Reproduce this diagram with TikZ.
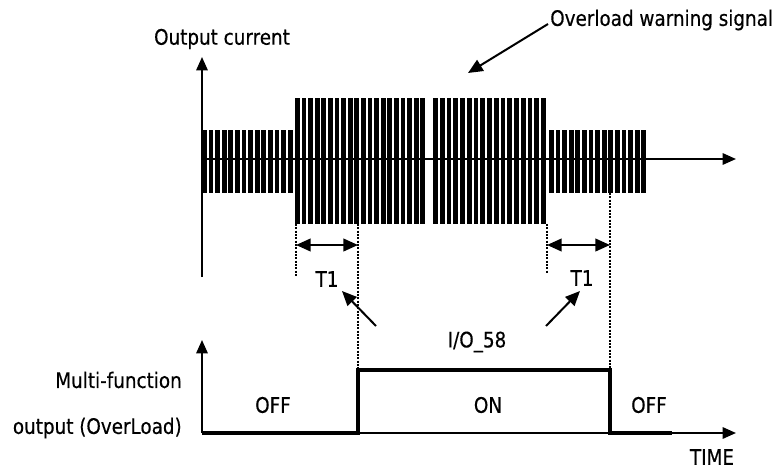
\documentclass[tikz,border=0pt]{standalone}
\usepackage{fontspec}
\setmainfont{DejaVu Sans}[FakeStretch=0.86,FakeBold=0.4]
\usetikzlibrary{arrows.meta}
\tikzset{
  axis/.style={line width=1.5pt,-{Triangle[length=10pt,width=8.5pt]}},
  sig/.style={line width=2.6pt,line join=miter},
  guide/.style={line width=1.2pt,dash pattern=on 1.4pt off 1.1pt},
  span/.style={line width=1.5pt,{Triangle[length=11pt,width=9.5pt]}-{Triangle[length=11pt,width=9.5pt]}},
  pointer/.style={line width=1.5pt,-{Triangle[length=11pt,width=9.5pt]}},
  lbl/.style={inner sep=0pt,font=\fontsize{16}{19}\selectfont},
  bar/.style={fill=black}
}
\begin{document}
\begin{tikzpicture}[x=0.75pt,y=-0.75pt]
\useasboundingbox (0,0) rectangle (774,468);
% bursts
\foreach \i in {0,...,13} \fill[bar] (202+\i*6.6,130) rectangle ++(4.8,63);
\foreach \i in {0,...,19} \fill[bar] (295+\i*6.6,98) rectangle ++(4.8,126);
\foreach \i in {0,...,16} \fill[bar] (433+\i*6.75,98) rectangle ++(4.8,126);
\foreach \i in {0,...,14} \fill[bar] (549+\i*6.6,130) rectangle ++(4.8,63);
% coordinates
\coordinate (o1) at (202,277);
\coordinate (y1) at (202,57);
\coordinate (x0) at (202,159);
\coordinate (x1) at (736,159);
\coordinate (o2) at (202,433);
\coordinate (y2) at (202,340);
\coordinate (x2) at (736,433);
\coordinate (up) at (358,433);
\coordinate (upt) at (358,370);
\coordinate (dnt) at (610,370);
\coordinate (dn) at (610,433);
\coordinate (sigend) at (672,433);
\coordinate (g1a) at (296,224);
\coordinate (g1b) at (296,276);
\coordinate (g2a) at (358,224);
\coordinate (g3a) at (547,224);
\coordinate (g3b) at (547,273);
\coordinate (g4a) at (610,193);
\coordinate (s1a) at (296,245);
\coordinate (s1b) at (358,245);
\coordinate (s2a) at (547,245);
\coordinate (s2b) at (610,245);
\coordinate (p1) at (376,326);
\coordinate (tip1) at (342,291);
\coordinate (p2) at (546,326);
\coordinate (tip2) at (580,291);
\coordinate (w1) at (548,24);
\coordinate (w2) at (468,73);
% axes
\draw[axis] (o1) -- (y1);
\draw[axis] (x0) -- (x1);
\draw[axis] (o2) -- (y2);
\draw[axis] (o2) -- (x2);
% signal
\draw[sig] (o2) -- (up) -- (upt) -- (dnt) -- (dn) -- (sigend);
% guides
\draw[guide] (g1a) -- (g1b);
\draw[guide] (g2a) -- (upt);
\draw[guide] (g3a) -- (g3b);
\draw[guide] (g4a) -- (dnt);
% spans
\draw[span] (s1a) -- (s1b);
\draw[span] (s2a) -- (s2b);
% labels
\node[lbl] (t1a) at (327,279) {T1};
\node[lbl] (t1b) at (582,278) {T1};
\node[lbl] (io) at (477,342) {I/O\_58};
\node[lbl,anchor=west] (warn) at (550,20) {Overload warning signal};
\node[lbl] (oc) at (222,39) {Output current};
\node[lbl,anchor=east] (mf) at (182,380) {Multi-function};
\node[lbl,anchor=east] (ol) at (182,428) {output (OverLoad)};
\node[lbl] (off1) at (273,405) {OFF};
\node[lbl] (on) at (488,405) {ON};
\node[lbl] (off2) at (649,405) {OFF};
\node[lbl] (time) at (712,457) {TIME};
% pointers
\draw[pointer] (p1) -- (tip1);
\draw[pointer] (p2) -- (tip2);
\draw[pointer] (w1) -- (w2);
\end{tikzpicture}
\end{document}
